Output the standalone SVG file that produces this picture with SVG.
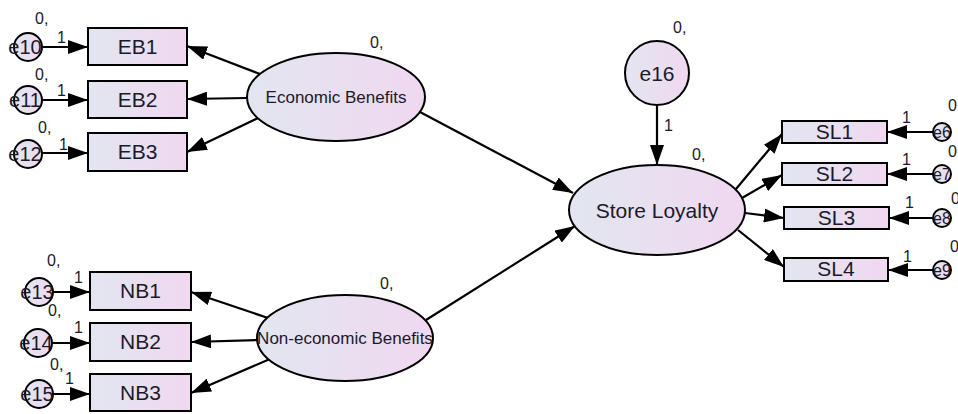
<svg xmlns="http://www.w3.org/2000/svg" width="958" height="414" viewBox="0 0 958 414">
<style>
.shape{stroke:#000;stroke-width:2;fill:url(#g)}
.ln{stroke:#000;stroke-width:2.2;fill:none;marker-end:url(#ah)}
text{font-family:"Liberation Sans",Arial,sans-serif;fill:#1a1a2a}
.bx{font-size:21px;text-anchor:middle}
.lat{font-size:17px;text-anchor:middle}
.sl{font-size:21px;text-anchor:middle}
.er{font-size:20px;text-anchor:middle}
.ers{font-size:16px;text-anchor:middle}
.sm{font-size:16px}
</style>
<defs>
<linearGradient id="g" x1="0" y1="0" x2="1" y2="0">
<stop offset="0" stop-color="#e2e6f0"/>
<stop offset="1" stop-color="#f0d8f0"/>
</linearGradient>
<marker id="ah" markerUnits="userSpaceOnUse" markerWidth="21" markerHeight="14" refX="20" refY="7" orient="auto">
<path d="M0,0 L20,7 L0,14 z" fill="#000"/>
</marker>
</defs>
<rect width="958" height="414" fill="#fff"/>
<g id="connectors">
<line class="ln" x1="42" y1="47" x2="88" y2="47"/>
<line class="ln" x1="42" y1="100" x2="88" y2="100"/>
<line class="ln" x1="42" y1="153" x2="88" y2="153"/>
<line class="ln" x1="53" y1="292" x2="90" y2="292"/>
<line class="ln" x1="52" y1="343" x2="90" y2="343"/>
<line class="ln" x1="53" y1="394" x2="90" y2="394"/>
<line class="ln" x1="260" y1="74" x2="187" y2="46"/>
<line class="ln" x1="247" y1="98" x2="187" y2="99"/>
<line class="ln" x1="258" y1="118" x2="187" y2="152"/>
<line class="ln" x1="268" y1="318" x2="191" y2="292"/>
<line class="ln" x1="257" y1="340" x2="191" y2="342"/>
<line class="ln" x1="270" y1="359" x2="191" y2="393"/>
<line class="ln" x1="420" y1="112" x2="573" y2="193"/>
<line class="ln" x1="426" y1="320" x2="575" y2="226"/>
<line class="ln" x1="657" y1="105" x2="657" y2="165"/>
<line class="ln" x1="736" y1="189" x2="782" y2="134"/>
<line class="ln" x1="742" y1="198" x2="782" y2="175"/>
<line class="ln" x1="745" y1="213" x2="784" y2="218"/>
<line class="ln" x1="738" y1="230" x2="784" y2="267"/>
<line class="ln" x1="933" y1="132" x2="887" y2="132"/>
<line class="ln" x1="933" y1="174" x2="887" y2="174"/>
<line class="ln" x1="933" y1="218" x2="889" y2="218"/>
<line class="ln" x1="933" y1="270" x2="888" y2="270"/>
</g>
<g id="e10"><circle class="shape" cx="28" cy="47" r="14"/><text class="er" x="25" y="54">e10</text><text class="sm" x="35" y="24">0,</text><text class="sm" x="57" y="43">1</text></g>
<g id="e11"><circle class="shape" cx="28" cy="100" r="14"/><text class="er" x="25" y="107">e11</text><text class="sm" x="35" y="80">0,</text><text class="sm" x="57" y="96">1</text></g>
<g id="e12"><circle class="shape" cx="28" cy="154" r="14"/><text class="er" x="25" y="161">e12</text><text class="sm" x="38" y="133">0,</text><text class="sm" x="59" y="150">1</text></g>
<g id="e13"><circle class="shape" cx="39" cy="292" r="14"/><text class="er" x="37" y="299">e13</text><text class="sm" x="47" y="266">0,</text><text class="sm" x="74" y="283">1</text></g>
<g id="e14"><circle class="shape" cx="38" cy="343" r="14"/><text class="er" x="36" y="350">e14</text><text class="sm" x="48" y="316">0,</text><text class="sm" x="74" y="333">1</text></g>
<g id="e15"><circle class="shape" cx="39" cy="394" r="14"/><text class="er" x="37" y="401">e15</text><text class="sm" x="50" y="370">0,</text><text class="sm" x="65" y="384">1</text></g>
<g id="EB1"><rect class="shape" x="88" y="28" width="99" height="37"/><text class="bx" x="137.5" y="54">EB1</text></g>
<g id="EB2"><rect class="shape" x="88" y="81" width="99" height="37"/><text class="bx" x="137.5" y="107">EB2</text></g>
<g id="EB3"><rect class="shape" x="88" y="133" width="99" height="38"/><text class="bx" x="137.5" y="159">EB3</text></g>
<g id="NB1"><rect class="shape" x="90" y="272" width="101" height="38"/><text class="bx" x="140.5" y="298">NB1</text></g>
<g id="NB2"><rect class="shape" x="90" y="323" width="101" height="38"/><text class="bx" x="140.5" y="349">NB2</text></g>
<g id="NB3"><rect class="shape" x="90" y="374" width="101" height="37"/><text class="bx" x="140.5" y="400">NB3</text></g>
<g id="economic-benefits"><ellipse class="shape" cx="336" cy="97" rx="89" ry="44"/><text class="lat" x="336" y="103">Economic Benefits</text><text class="sm" x="370" y="48">0,</text></g>
<g id="non-economic-benefits"><ellipse class="shape" cx="345" cy="338" rx="88" ry="43"/><text class="lat" x="345" y="344">Non-economic Benefits</text><text class="sm" x="380" y="289">0,</text></g>
<g id="e16"><circle class="shape" cx="657" cy="73" r="32"/><text class="sl" x="657" y="81">e16</text><text class="sm" x="673" y="33">0,</text><text class="sm" x="664" y="131">1</text></g>
<g id="store-loyalty"><ellipse class="shape" cx="657" cy="210" rx="88" ry="45"/><text class="sl" x="657" y="218">Store Loyalty</text><text class="sm" x="692" y="160">0,</text></g>
<g id="SL1"><rect class="shape" x="782" y="121" width="105" height="22"/><text class="bx" x="834.5" y="139">SL1</text></g>
<g id="SL2"><rect class="shape" x="782" y="163" width="105" height="22"/><text class="bx" x="834.5" y="181">SL2</text></g>
<g id="SL3"><rect class="shape" x="784" y="207" width="105" height="22"/><text class="bx" x="836.5" y="225">SL3</text></g>
<g id="SL4"><rect class="shape" x="784" y="258" width="104" height="23"/><text class="bx" x="836" y="276">SL4</text></g>
<g id="e6"><circle class="shape" cx="942" cy="132" r="9"/><text class="ers" x="942" y="138">e6</text><text class="sm" x="902" y="123">1</text><text class="sm" x="948" y="111">0</text></g>
<g id="e7"><circle class="shape" cx="942" cy="174" r="9"/><text class="ers" x="942" y="180">e7</text><text class="sm" x="902" y="165">1</text><text class="sm" x="948" y="157">0</text></g>
<g id="e8"><circle class="shape" cx="942" cy="218" r="9"/><text class="ers" x="942" y="224">e8</text><text class="sm" x="905" y="208">1</text><text class="sm" x="951" y="204">0</text></g>
<g id="e9"><circle class="shape" cx="942" cy="270" r="9"/><text class="ers" x="942" y="276">e9</text><text class="sm" x="903" y="262">1</text><text class="sm" x="950" y="252">0</text></g>
</svg>
